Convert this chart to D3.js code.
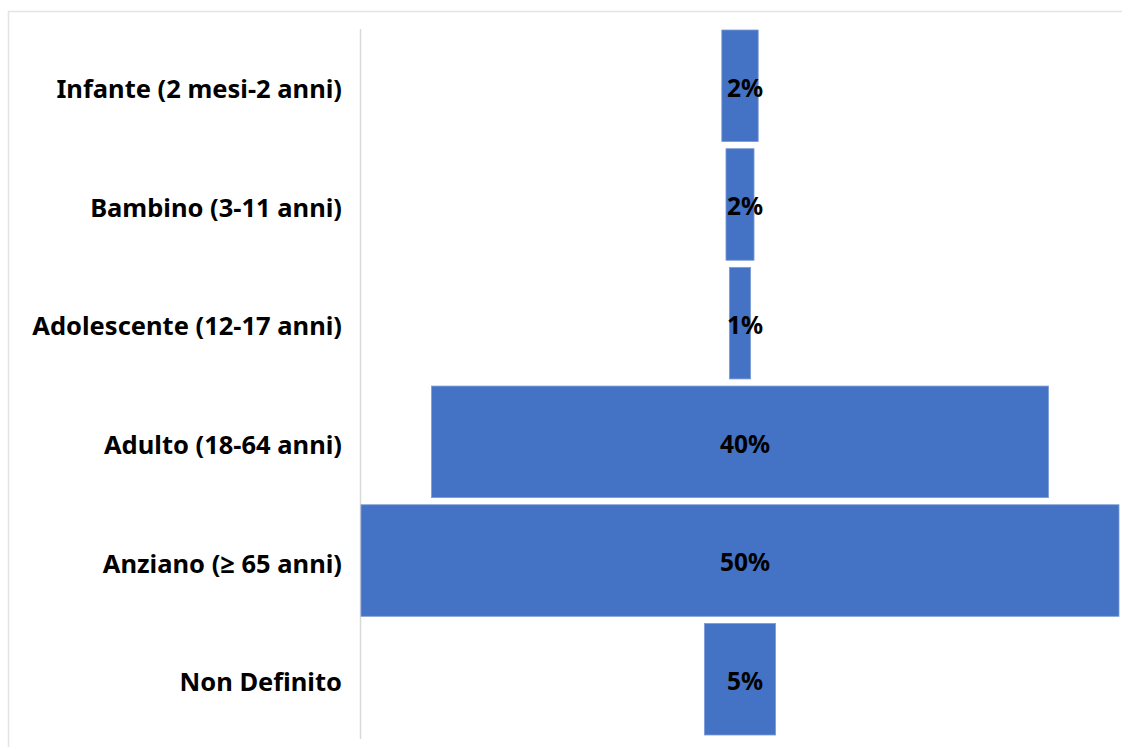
<!DOCTYPE html>
<html>
<head>
<meta charset="utf-8" />
<title>Fasce di età</title>
<script src="https://cdn.jsdelivr.net/npm/d3@7"></script>
<style>
body {
  margin: 0;
  background-color: #fff;
  font-family: 'Noto Sans', 'Open Sans', sans-serif;
}
</style>
</head>
<body>
<svg id="chart" width="1122" height="747"></svg>

<script>
// categorie (dall'alto verso il basso)
var categories = ["Infante (2 mesi-2 anni)", "Bambino (3-11 anni)", "Adolescente (12-17 anni)",
                  "Adulto (18-64 anni)", "Anziano (\u2265 65 anni)", "Non Definito"];
// valori stimati dalla larghezza delle barre (%)
var values     = [2.4, 1.85, 1.4, 40.7, 50, 4.7];
// etichette dati come mostrate
var labels     = ["2%", "2%", "1%", "40%", "50%", "5%"];

var v_Color = "#4472C4";
var m = {left: 361, right: 1119, top: 30, bottom: 735};
var v_Center = (m.left + m.right) / 2;

var svg = d3.select("#chart");

// cornice esterna
svg.append("rect")
  .attr("x", 8.5)
  .attr("y", 11.5)
  .attr("width", 1130)
  .attr("height", 760)
  .attr("fill", "none")
  .attr("stroke", "#e3e3e3")
  .attr("stroke-width", 1.5);

var y = d3.scaleBand()
  .domain(categories)
  .range([m.top, m.bottom])
  .paddingInner(0.06)
  .paddingOuter(0);

var w = d3.scaleLinear()
  .domain([0, d3.max(values)])
  .range([0, m.right - m.left]);

// asse verticale
svg.append("line")
  .attr("x1", 360.5).attr("x2", 360.5)
  .attr("y1", 29).attr("y2", 739)
  .attr("stroke", "#d9d9d9")
  .attr("stroke-width", 1.5);

var rows = svg.selectAll("g.row")
  .data(categories)
  .enter().append("g")
  .attr("class", "row");

rows.append("rect")
  .attr("x", function(d, i) { return v_Center - w(values[i]) / 2; })
  .attr("y", function(d) { return y(d); })
  .attr("width", function(d, i) { return w(values[i]); })
  .attr("height", y.bandwidth())
  .attr("fill", v_Color)
  .attr("stroke", "#7d9bd6")
  .attr("stroke-width", 0.8);

// etichette categorie
rows.append("text")
  .attr("x", 342)
  .attr("y", function(d) { return y(d) + y.bandwidth() / 2 + 3; })
  .attr("dy", "0.36em")
  .attr("text-anchor", "end")
  .attr("font-size", "25.5px")
  .attr("font-weight", "bold")
  .attr("fill", "#000")
  .text(function(d) { return d; });

// etichette dati
rows.append("text")
  .attr("x", v_Center + 5)
  .attr("y", function(d) { return y(d) + y.bandwidth() / 2 + 2; })
  .attr("dy", "0.36em")
  .attr("text-anchor", "middle")
  .attr("font-size", "24.5px")
  .attr("font-weight", "bold")
  .attr("fill", "#000")
  .text(function(d, i) { return labels[i]; });
</script>
</body>
</html>
